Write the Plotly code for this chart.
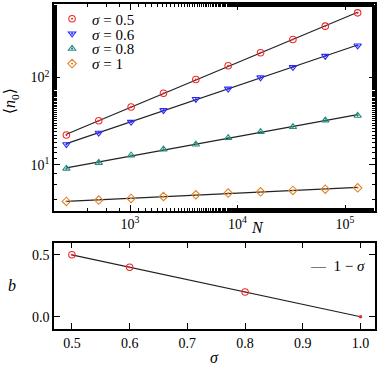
import numpy as np
import plotly.graph_objects as go

N = [256, 512, 1024, 2048, 4096, 8192, 16384, 32768, 65536, 131072]
n_s05 = [22, 32, 46, 66, 95, 136, 192, 272, 386, 548]
n_s06 = [17.2, 23.3, 31, 42.2, 56.6, 74.3, 100, 131, 176, 231]
n_s08 = [9.1, 10.6, 12.9, 15.1, 17.2, 20.4, 23.9, 27.2, 32.4, 36.7]
n_s10 = [3.83, 3.97, 4.14, 4.36, 4.56, 4.77, 4.93, 5.11, 5.29, 5.48]
series_labels = ["<i>σ</i> = 0.5", "<i>σ</i> = 0.6", "<i>σ</i> = 0.8", "<i>σ</i> = 1"]
x_logticks = [1e3, 1e4, 1e5]
x_logticktext = ["10<sup>3</sup>", "10<sup>4</sup>", "10<sup>5</sup>"]
y_logticks = [10, 100]
y_logticktext = ["10<sup>1</sup>", "10<sup>2</sup>"]

sigma_b = [0.5, 0.6, 0.8]
b_vals = [0.5, 0.4, 0.2]
sigma_end = [1.0]
b_end = [0.0]
sigma_line = [0.5, 1.0]
b_line = [0.5, 0.0]
sig_ticks = [0.5, 0.6, 0.7, 0.8, 0.9, 1.0]
sig_ticktext = ["0.5", "0.6", "0.7", "0.8", "0.9", "1.0"]
b_ticks = [0.0, 0.5]
b_ticktext = ["0.0", "0.5"]

FONT = "Liberation Serif, DejaVu Serif, serif"
colors = ["#ee2a2a", "#2a2aff", "#2a8c7c", "#e0862a"]
symbols = ["circle-open-dot", "triangle-down-open-dot", "triangle-up-open-dot", "diamond-open-dot"]
legend_ids = ["legend", "legend2", "legend3", "legend4"]
legend_y = [0.954, 0.908, 0.862, 0.816]

fig = go.Figure()
logN = np.log10(N)
for vals in [n_s05, n_s06, n_s08, n_s10]:
    p = np.polyfit(logN, np.log10(vals), 1)
    xs = np.array([N[0], N[-1]])
    ys = 10 ** np.polyval(p, np.log10(xs))
    fig.add_trace(go.Scatter(x=xs, y=ys, mode="lines", line=dict(color="#222", width=1.2),
                             showlegend=False, xaxis="x", yaxis="y"))
for vals, lab, c, s, lg in zip([n_s05, n_s06, n_s08, n_s10], series_labels, colors, symbols, legend_ids):
    fig.add_trace(go.Scatter(x=N, y=vals, mode="markers", name=lab, legend=lg,
                             marker=dict(symbol=s, color=c, size=6.5, line=dict(width=1.1, color=c)),
                             xaxis="x", yaxis="y"))

fig.add_trace(go.Scatter(x=sigma_line, y=b_line, mode="lines", showlegend=False,
                         line=dict(color="#222", width=1.2), xaxis="x2", yaxis="y2"))
fig.add_trace(go.Scatter(x=sigma_b, y=b_vals, mode="markers", showlegend=False,
                         marker=dict(symbol="circle-open-dot", color=colors[0], size=6.5, line=dict(width=1.1, color=colors[0])),
                         xaxis="x2", yaxis="y2"))
fig.add_trace(go.Scatter(x=sigma_end, y=b_end, mode="markers", showlegend=False,
                         marker=dict(symbol="circle", color=colors[0], size=3.5),
                         xaxis="x2", yaxis="y2"))

axis_common = dict(showline=True, linecolor="black", linewidth=1.5, mirror="allticks",
                   ticks="inside", ticklen=6, tickwidth=1.2, tickcolor="black", automargin=False,
                   showgrid=False, zeroline=False, tickfont=dict(family=FONT, size=14, color="black"))
minor = dict(ticks="inside", ticklen=3, tickwidth=1, tickcolor="black", showgrid=False)

legends = {}
for lg, ly in zip(legend_ids, legend_y):
    legends[lg] = dict(x=-0.006, y=ly, xanchor="left", yanchor="middle", bgcolor="rgba(0,0,0,0)",
                       font=dict(family=FONT, size=15), itemwidth=30)

fig.update_layout(
    width=381, height=366,
    margin=dict(l=54, r=6, t=2, b=37),
    paper_bgcolor="white", plot_bgcolor="white",
    font=dict(family=FONT, size=14, color="black"),
    xaxis=dict(type="log", range=[2.293, 5.279], domain=[0, 1], anchor="y",
               tickvals=x_logticks, ticktext=x_logticktext, minor=minor, **axis_common),
    yaxis=dict(type="log", range=[0.477, 2.84], domain=[0.364, 1], anchor="x",
               tickvals=y_logticks, ticktext=y_logticktext, minor=minor, **axis_common),
    xaxis2=dict(range=[0.469, 1.025], domain=[0, 1], anchor="y2",
                tickvals=sig_ticks, ticktext=sig_ticktext, **axis_common),
    yaxis2=dict(range=[-0.099, 0.599], domain=[0, 0.266], anchor="x2",
                tickvals=b_ticks, ticktext=b_ticktext, **axis_common),
    **legends,
)

ann_font = dict(family=FONT, size=16, color="black")
fig.add_annotation(text="<i>N</i>", xref="paper", yref="paper", x=0.635, y=0.345,
                   xanchor="center", yanchor="top", showarrow=False, font=ann_font)
fig.add_annotation(text="<i>σ</i>", xref="paper", yref="paper", x=0.5, y=-0.055,
                   xanchor="center", yanchor="top", showarrow=False, font=ann_font)
fig.add_annotation(text="<i>b</i>", xref="paper", x=-0.13, yref="paper", y=0.133,
                   xanchor="center", yanchor="middle", showarrow=False, font=ann_font)
fig.add_annotation(text="⟨<i>n</i><sub>0</sub>⟩", xref="paper", x=-0.135, yref="paper", y=0.70,
                   xanchor="center", yanchor="middle", showarrow=False, textangle=-90, font=ann_font)
fig.add_annotation(text="—  1 − <i>σ</i>", xref="paper", x=0.975, yref="paper", y=0.195,
                   xanchor="right", yanchor="middle", showarrow=False, font=dict(family=FONT, size=15))

fig.write_html("out.html", config={"displayModeBar": False},
               post_script="document.body.style.margin='0';")
